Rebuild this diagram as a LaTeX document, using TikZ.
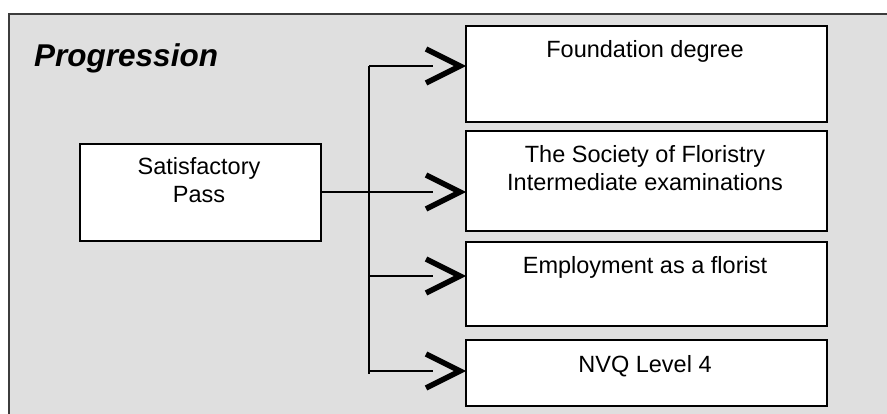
\documentclass[tikz,border=0pt]{standalone}
\usepackage{fontspec}
\setmainfont{Liberation Sans}
\definecolor{bggray}{RGB}{223,223,223}
\definecolor{framegray}{RGB}{60,60,60}
\begin{document}
\begin{tikzpicture}[x=1pt,y=-1pt,
  boxnode/.style={draw=black, line width=2pt, fill=white, anchor=north west, inner sep=0pt},
  lbl/.style={font=\fontsize{23.5}{28}\selectfont, align=center, anchor=base, inner sep=0pt},
  conn/.style={line width=2pt},
  chev/.style={line width=5.5pt, miter limit=10}]
\useasboundingbox (0,0) rectangle (887,414);
\clip (0,0) rectangle (887,414);
\fill[white] (0,0) rectangle (887,414);
\draw[fill=bggray, draw=framegray, line width=1.5pt] (9,14) rectangle (900,430);

\node[font=\fontsize{31.5}{36}\selectfont\bfseries\itshape, anchor=base west, inner sep=0pt] (title) at (34,67) {Progression};

\node[boxnode, minimum width=241, minimum height=97] (sat) at (79,143) {};
\node[lbl] (satT) at (199,203) {Satisfactory\\Pass};

\node[boxnode, minimum width=361, minimum height=96] (b1) at (465,25) {};
\node[boxnode, minimum width=361, minimum height=100] (b2) at (465,130) {};
\node[boxnode, minimum width=361, minimum height=84] (b3) at (465,241) {};
\node[boxnode, minimum width=361, minimum height=66] (b4) at (465,339) {};

\node[lbl] (t1) at (645,58) {Foundation degree};
\node[lbl] (t2) at (645,191) {The Society of Floristry\\Intermediate examinations};
\node[lbl] (t3) at (645,274) {Employment as a florist};
\node[lbl] (t4) at (645,373) {NVQ Level 4};

\coordinate (vtop) at (369,66);
\coordinate (vbot) at (369,374);
\coordinate (j1) at (369,66);
\coordinate (j3) at (369,276);
\coordinate (j4) at (369,371);
\coordinate (e1) at (433,66);
\coordinate (e2) at (433,192);
\coordinate (e3) at (433,276);
\coordinate (e4) at (433,371);
\coordinate (p1) at (460,66);
\coordinate (p2) at (460,192);
\coordinate (p3) at (460,276);
\coordinate (p4) at (460,371);

\draw[conn] (vtop) -- (vbot);
\draw[conn] (j1) -- (e1);
\draw[conn] (sat.east |- e2) -- (e2);
\draw[conn] (j3) -- (e3);
\draw[conn] (j4) -- (e4);

\foreach \p in {p1,p2,p3,p4}{
  \draw[chev] ([shift={(-34,-17)}]\p) -- (\p) -- ([shift={(-34,17)}]\p);
}
\end{tikzpicture}
\end{document}
